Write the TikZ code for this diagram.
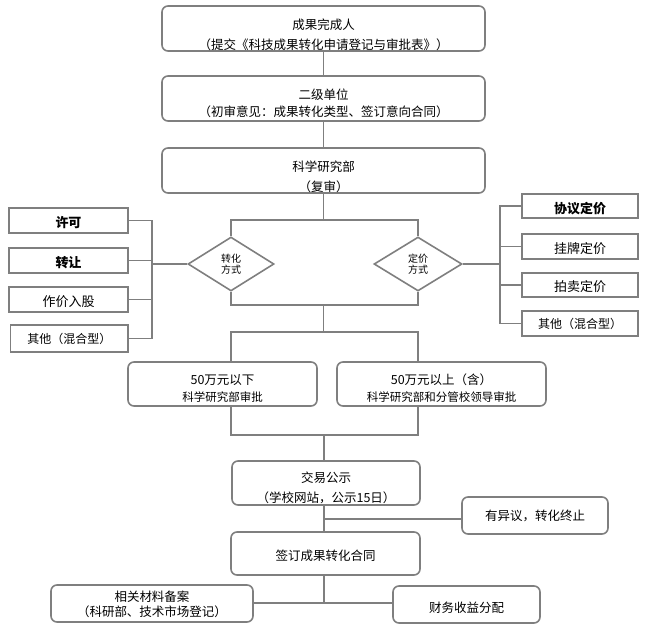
\documentclass[tikz,border=0pt]{standalone}
\usepackage{fontspec}
\setmainfont{Noto Sans CJK SC}
\usetikzlibrary{shapes.geometric}
\definecolor{linegray}{RGB}{127,127,127}

\tikzset{
  mainbox/.style={draw=linegray, line width=1.6pt, rounded corners=6pt, fill=white,
    inner sep=0pt, align=center, text depth=0pt, font=\fontsize{12.5}{20}\selectfont},
  optbox/.style={draw=linegray, line width=1.6pt, fill=white, inner sep=0pt,
    minimum width=118pt, minimum height=25pt, text height=13pt, text depth=0pt,
    font=\fontsize{13}{15}\selectfont},
  choice/.style={diamond, draw=linegray, line width=1.6pt, fill=white, inner sep=0pt,
    minimum height=54pt, align=center, font=\fontsize{10}{11}\selectfont},
  link/.style={draw=linegray, line width=1.6pt}
}

\begin{document}
\begin{tikzpicture}[x=1pt,y=-1pt]
\useasboundingbox (0,0) rectangle (646,627);

% main column
\node[mainbox, minimum width=323pt, minimum height=45pt, text height=42pt] (owner) at (323.5,28.5) {成果完成人\\（提交《科技成果转化申请登记与审批表》）};
\node[mainbox, minimum width=323pt, minimum height=45pt, text height=36.5pt, font=\fontsize{12.5}{17.5}\selectfont] (unit) at (323.5,98.5) {二级单位\\（初审意见：成果转化类型、签订意向合同）};
\node[mainbox, minimum width=323pt, minimum height=45pt, text height=42pt] (dept) at (323.5,170.5) {科学研究部\\（复审）};

% the two choices
\node[choice, minimum width=86pt] (mode) at (231,264) {转化\\方式};
\node[choice, minimum width=88pt] (price) at (418,264) {定价\\方式};

% ways of transfer
\node[optbox, minimum width=119pt] (licence) at (68.5,220.5) {\bfseries 许可};
\node[optbox, minimum width=119pt, text height=14pt] (transfer) at (68.5,260.5) {\bfseries 转让};
\node[optbox, minimum width=119pt] (equity) at (68.5,299.5) {作价入股};
\node[optbox, minimum width=117.5pt, minimum height=27pt, text height=9pt, font=\fontsize{12}{14}\selectfont] (mixedL) at (69.3,338.5) {其他（混合型）};

% ways of pricing
\node[optbox, minimum width=116pt, minimum height=24pt, text height=14pt] (agreed) at (580,206) {\bfseries 协议定价};
\node[optbox, minimum width=116pt] (listed) at (580,246.5) {挂牌定价};
\node[optbox, minimum width=116pt, minimum height=24pt] (auction) at (580,285) {拍卖定价};
\node[optbox, minimum width=116pt, text height=9pt, font=\fontsize{12}{14}\selectfont] (mixedR) at (580,323.5) {其他（混合型）};

% approval by amount
\node[mainbox, minimum width=189pt, minimum height=44pt, text height=35pt, font=\fontsize{12.5}{17}\selectfont] (low) at (222.5,384) {50万元以下\\{\fontsize{11.5}{17}\selectfont 科学研究部审批}};
\node[mainbox, minimum width=209pt, minimum height=44pt, text height=35pt, font=\fontsize{12.5}{17}\selectfont] (high) at (441.5,384) {50万元以上（含）\\{\fontsize{11.5}{17}\selectfont 科学研究部和分管校领导审批}};

% publicity and contract
\node[mainbox, minimum width=188pt, minimum height=44pt, text height=39pt] (notice) at (326,483) {交易公示\\（学校网站，公示15日）};
\node[mainbox, minimum width=146pt, minimum height=37pt, text height=10pt] (objection) at (535,515.5) {有异议，转化终止};
\node[mainbox, minimum width=189pt, minimum height=43pt, text height=14pt] (contract) at (325.5,553.5) {签订成果转化合同};
\node[mainbox, minimum width=202pt, minimum height=37pt, text height=26pt, font=\fontsize{12.5}{15}\selectfont] (archive) at (152,603.5) {相关材料备案\\（科研部、技术市场登记）};
\node[mainbox, minimum width=147pt, minimum height=37pt, text height=15pt] (finance) at (466.5,604.5) {财务收益分配};

% junctions
\coordinate (split) at (323.5,220);
\coordinate (lbus) at (152,264);
\coordinate (rbus) at (500,264);
\coordinate (merge) at (323.5,305);
\coordinate (fork) at (323.5,332);
\coordinate (join) at (324,435);
\coordinate (veto) at (324,519);
\coordinate (settle) at (324,603);

% connectors
\draw[link] (owner.south) -- (unit.north);
\draw[link] (unit.south) -- (dept.north);
\draw[link] (dept.south) -- (split);
\draw[link] (mode.north) |- (split) -| (price.north);

\draw[link] (licence.east) -| (lbus);
\draw[link] (mixedL.east) -| (lbus);
\draw[link] (transfer.east) -- (transfer.east -| lbus);
\draw[link] (equity.east) -- (equity.east -| lbus);
\draw[link] (lbus) -- (mode.west);

\draw[link] (agreed.west) -| (rbus);
\draw[link] (mixedR.west) -| (rbus);
\draw[link] (listed.west) -- (listed.west -| rbus);
\draw[link] (auction.west) -- (auction.west -| rbus);
\draw[link] (price.east) -- (rbus);

\draw[link] (mode.south) |- (merge) -| (price.south);
\draw[link] (merge) -- (fork);
\draw[link] (mode.south |- low.north) |- (fork) -| (price.south |- high.north);

\draw[link] (mode.south |- low.south) |- (join) -| (price.south |- high.south);
\draw[link] (join) -- (join |- notice.north);
\draw[link] (join |- notice.south) -- (join |- contract.north);
\draw[link] (veto) -- (veto -| objection.west);
\draw[link] (join |- contract.south) -- (settle);
\draw[link] (settle -| archive.east) -- (settle -| finance.west);
\end{tikzpicture}
\end{document}
